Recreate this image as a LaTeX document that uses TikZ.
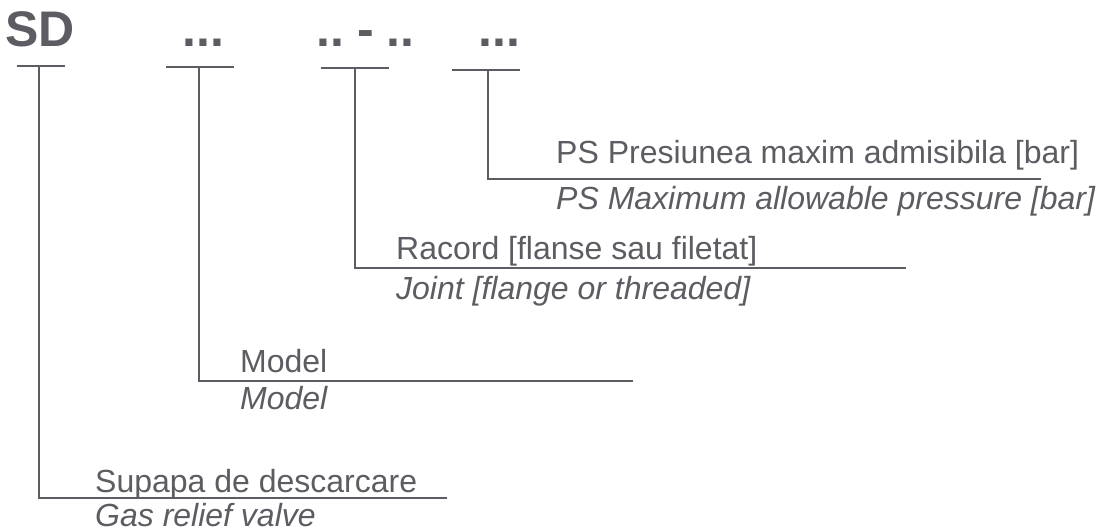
\documentclass[tikz,border=0pt]{standalone}
\usepackage{fontspec}
\setmainfont{Liberation Sans}
\definecolor{ink}{RGB}{92,92,98}
\begin{document}
\begin{tikzpicture}[x=1pt,y=-1pt,
  code/.style={anchor=base west,inner sep=0pt,text=ink,font=\fontsize{50}{50}\selectfont\bfseries},
  lbl/.style={anchor=base west,inner sep=0pt,text=ink,font=\fontsize{32}{32}\selectfont},
  lbli/.style={lbl,font=\fontsize{32}{32}\selectfont\itshape},
  rule/.style={draw=ink,line width=2pt}]
\useasboundingbox (0,0) rectangle (1107,532);
% codes
\node[code] (sd) at (5,47) {SD};
\node[code] (c2) at (182,47) {...};
\node[code] (c3) at (316,47) {..\kern13pt-\kern13pt..};
\node[code] (c4) at (478,47) {...};
% bars under codes
\coordinate (b1l) at (17,66);  \coordinate (b1r) at (65,66);  \coordinate (s1) at (39,66);
\coordinate (b2l) at (166,67); \coordinate (b2r) at (234,67); \coordinate (s2) at (199,67);
\coordinate (b3l) at (321,68); \coordinate (b3r) at (389,68); \coordinate (s3) at (355,68);
\coordinate (b4l) at (452,70); \coordinate (b4r) at (520,70); \coordinate (s4) at (488,70);
% corners and line ends
\coordinate (k1) at (39,498);  \coordinate (e1) at (447,498);
\coordinate (k2) at (199,381); \coordinate (e2) at (633,381);
\coordinate (k3) at (355,268); \coordinate (e3) at (906,268);
\coordinate (k4) at (488,179); \coordinate (e4) at (1041,179);
\draw[rule] (b1l) -- (b1r);
\draw[rule] (b2l) -- (b2r);
\draw[rule] (b3l) -- (b3r);
\draw[rule] (b4l) -- (b4r);
\draw[rule] (s1) -- (k1) -- (e1);
\draw[rule] (s2) -- (k2) -- (e2);
\draw[rule] (s3) -- (k3) -- (e3);
\draw[rule] (s4) -- (k4) -- (e4);
% labels
\node[lbl]  (l4a) at (556,163) {PS Presiunea maxim admisibila [bar]};
\node[lbli] (l4b) at (556,209) {PS Maximum allowable pressure [bar]};
\node[lbl]  (l3a) at (396,259) {Racord [flanse sau filetat]};
\node[lbli] (l3b) at (396,299) {Joint [flange or threaded]};
\node[lbl]  (l2a) at (240,372) {Model};
\node[lbli] (l2b) at (240,409) {Model};
\node[lbl]  (l1a) at (95,492) {Supapa de descarcare};
\node[lbli] (l1b) at (95,526) {Gas relief valve};
\end{tikzpicture}
\end{document}
